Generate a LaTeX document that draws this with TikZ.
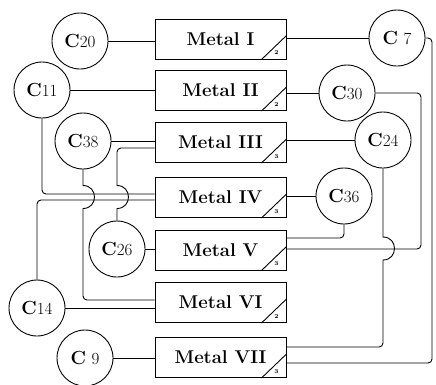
\documentclass[tikz,border=0pt]{standalone}
\begin{document}
\newcommand\ccl[1]{{\fontsize{19}{20}\selectfont\bfseries C}#1}
\begin{tikzpicture}[x=1pt,y=-1pt,
  metal/.style={draw, line width=1pt, minimum width=131pt, minimum height=40pt, inner sep=0pt,
    font=\fontsize{18.5}{20}\selectfont\bfseries},
  cnode/.style={draw, circle, line width=0.9pt, minimum size=56pt, inner sep=0pt,
    font=\fontsize{17}{18}\selectfont},
  wire/.style={line width=0.9pt},
  corner/.style={font=\fontsize{6}{7}\selectfont\bfseries, inner sep=0pt}]
\useasboundingbox (0,0) rectangle (436,384);

% metal boxes
\node[metal] (m1) at (220.5,39) {Metal I};
\node[metal] (m2) at (220.5,90.5) {Metal II};
\node[metal] (m3) at (220.5,142.5) {Metal III};
\node[metal] (m4) at (220.5,197.5) {Metal IV};
\node[metal] (m5) at (220.5,250) {Metal V};
\node[metal] (m6) at (220.5,302.5) {Metal VI};
\node[metal] (m7) at (220.5,357.5) {Metal VII};

\foreach \m/\n in {m1/2,m2/2,m3/3,m4/3,m5/3,m6/2,m7/3}{
  \draw[line width=0.9pt] ([xshift=-25pt]\m.south east) -- ([yshift=24pt]\m.south east);
  \node[corner] (\m n) at ([xshift=-10pt,yshift=6.5pt]\m.south east) {\n};
}

% circles
\node[cnode] (c20) at (80,41) {\ccl{20}};
\node[cnode] (c7) at (397,38) {\ccl{\,\,7}};
\node[cnode] (c11) at (42,90) {\ccl{11}};
\node[cnode] (c30) at (347,93) {\ccl{30}};
\node[cnode] (c38) at (83,141) {\ccl{38}};
\node[cnode] (c24) at (383,140) {\ccl{24}};
\node[cnode] (c36) at (344,196) {\ccl{36}};
\node[cnode] (c26) at (117,249) {\ccl{26}};
\node[cnode] (c14) at (37,308) {\ccl{14}};
\node[cnode] (c9) at (85,358) {\ccl{\,\,9}};

% straight connectors
\draw[wire] (c20) -- (c20 -| m1.west);
\draw[wire] (m1.east |- c7) -- (c7);
\draw[wire] (c11) -- (c11 -| m2.west);
\draw[wire] (m2.east |- c30) -- (c30);
\draw[wire] (c38) -- (c38 -| m3.west);
\draw[wire] (m3.east |- c24) -- (c24);
\draw[wire] (m4.east |- c36) -- (c36);
\draw[wire] (c26) -- (c26 -| m5.west);
\draw[wire] (c14) -- (c14 -| m6.west);
\draw[wire] (c9) -- (c9 -| m7.west);

% routed connectors
\draw[wire, rounded corners=4pt] (c7.east) -- (432,38) -- (432,363) -- ([yshift=-5.5pt]m7.east);
\draw[wire, rounded corners=4pt] (c30.east) -- (421,93) -- (421,249) -- ([yshift=1pt]m5.east);
\draw[wire, rounded corners=4pt] (c36.south) -- (344,238) -- ([yshift=12pt]m5.east);
\draw[wire] (c24.south) -- (383,237) .. controls (398.3,237) and (398.3,260) .. (383,260)
  [rounded corners=4pt] -- (383,347) -- ([yshift=10.5pt]m7.east);
\draw[wire, rounded corners=4pt] (c11.south) -- (42,194) -- ([yshift=3.5pt]m4.west);
\draw[wire, rounded corners=4pt] (c14.north) -- (37,200) -- ([yshift=-2.5pt]m4.west);
\draw[wire] (c38.south) -- (83,185.5) .. controls (98.3,185.5) and (98.3,208.5) .. (83,208.5)
  [rounded corners=4pt] -- (83,300) -- ([yshift=2.5pt]m6.west);
\draw[wire] (c26.north) -- (117,208.5) .. controls (132.3,208.5) and (132.3,185.5) .. (117,185.5)
  [rounded corners=4pt] -- (117,148) -- ([yshift=-5.5pt]m3.west);
\end{tikzpicture}
\end{document}
